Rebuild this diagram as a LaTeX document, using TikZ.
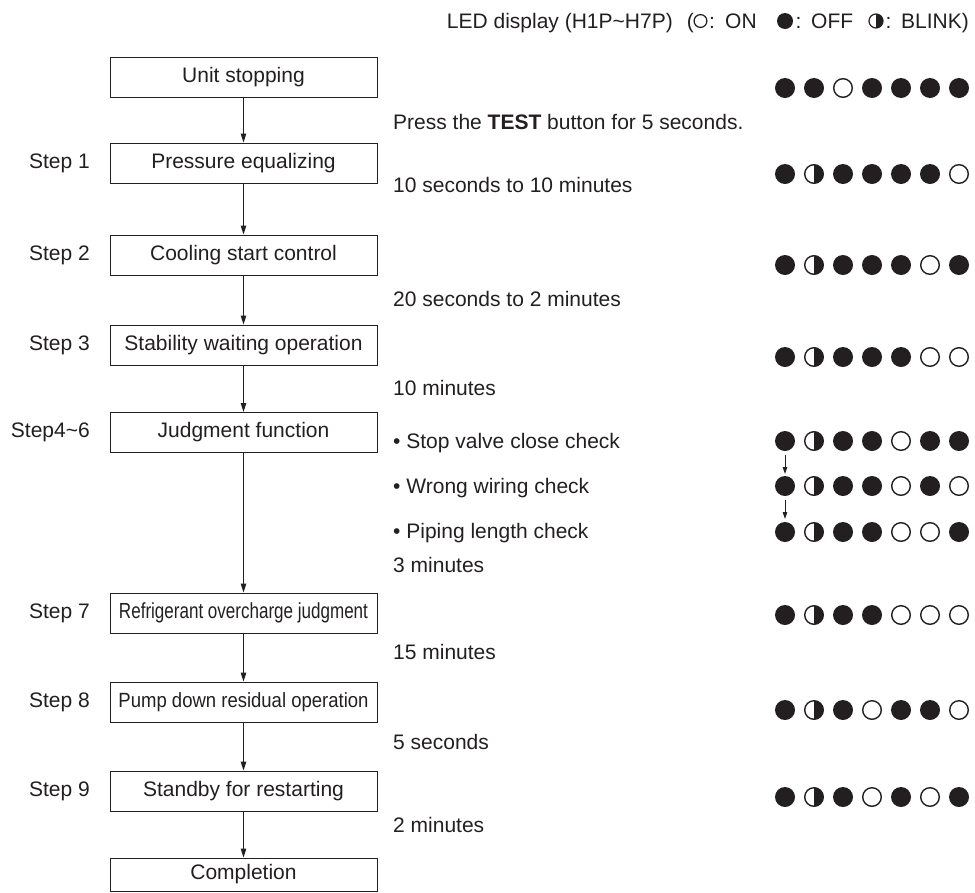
\documentclass[tikz,border=0pt]{standalone}
\usepackage{fontspec}
\setmainfont{Liberation Sans}
\usetikzlibrary{arrows.meta}
\definecolor{ink}{RGB}{35,31,32}
\newcommand\ledF[2]{\fill[ink] (#1,#2) circle (10);}
\newcommand\ledO[2]{\draw[ink,line width=1.4] (#1,#2) circle (9.3);}
\newcommand\ledB[2]{\draw[ink,line width=1.4] (#1,#2) circle (9.3);
  \fill[ink] (#1,#2) ++(0,9.3) arc[start angle=90,end angle=-90,radius=9.3] -- cycle;}
\newcommand\ledrow[2]{\foreach \s [count=\i from 0] in {#2} {\csname led\s\endcsname{785+29*\i}{#1}}}
\begin{document}
\begin{tikzpicture}[x=1pt,y=-1pt,
  every node/.style={text=ink,font=\fontsize{21}{25}\selectfont},
  box/.style={draw=ink,line width=1pt,minimum width=267pt,minimum height=40pt,inner sep=0pt},
  arr/.style={draw=ink,line width=1pt,-{Triangle[length=9pt,width=5.5pt]}},
  lbl/.style={anchor=west,inner sep=0pt},
  stp/.style={anchor=east,inner sep=0pt},
  hd/.style={inner sep=0pt}]
\useasboundingbox (0,0) rectangle (975,892);
% header
\node[hd,anchor=base east] (h0) at (673,28) {LED display (H1P\textasciitilde H7P)};
\node[hd,anchor=base east] (h1) at (694,28) {(};
\draw[ink,line width=1.2] (700.5,21) circle (6.4);
\node[hd,anchor=base] (c1) at (712,28) {:};
\node[hd,anchor=base west] (h2) at (725,28) {ON};
\fill[ink] (785,21) circle (8);
\node[hd,anchor=base] (c2) at (798.5,28) {:};
\node[hd,anchor=base west] (h3) at (811,28) {OFF};
\draw[ink,line width=1.2] (876,21) circle (7);
\fill[ink] (876,21) ++(0,7) arc[start angle=90,end angle=-90,radius=7] -- cycle;
\node[hd,anchor=base] (c3) at (888.5,28) {:};
\node[hd,anchor=base west] (h4) at (901,28) {BLINK)};
% boxes
\node[box] (b0) at (243.5,77) {Unit stopping};
\node[box] (b1) at (243.5,163) {Pressure equalizing};
\node[box] (b2) at (243.5,255) {Cooling start control};
\node[box] (b3) at (243.5,345) {Stability waiting operation};
\node[box] (b4) at (243.5,432.5) {Judgment function};
\node[box] (b7) at (243.5,613) {\resizebox{249pt}{!}{\scalebox{0.78}[1]{Refrigerant overcharge judgment}}};
\node[box] (b8) at (243.5,702) {\resizebox{250pt}{!}{\scalebox{0.9}[1]{Pump down residual operation}}};
\node[box] (b9) at (243.5,791) {Standby for restarting};
\node[box,minimum height=33pt] (b10) at (243.5,874.5) {\raisebox{-1.5pt}{Completion}};
\draw[arr] (b0) -- (b1);
\draw[arr] (b1) -- (b2);
\draw[arr] (b2) -- (b3);
\draw[arr] (b3) -- (b4);
\draw[arr] (b4) -- (b7);
\draw[arr] (b7) -- (b8);
\draw[arr] (b8) -- (b9);
\draw[arr] (b9) -- (b10);
% step labels
\node[stp] (s1) at (90,163) {Step 1};
\node[stp] (s2) at (90,255) {Step 2};
\node[stp] (s3) at (90,345) {Step 3};
\node[stp] (s4) at (90,432.5) {Step4\textasciitilde 6};
\node[stp] (s7) at (90,613) {Step 7};
\node[stp] (s8) at (90,702) {Step 8};
\node[stp] (s9) at (90,791) {Step 9};
% right texts
\node[lbl] (t0) at (393,122) {Press the \textbf{TEST} button for 5 seconds.};
\node[lbl] (t1) at (393,185) {10 seconds to 10 minutes};
\node[lbl] (t2) at (393,299) {20 seconds to 2 minutes};
\node[lbl] (t3) at (393,388) {10 minutes};
\node[lbl] (t4) at (393,443) {• Stop valve close check};
\node[lbl] (t5) at (393,488) {• Wrong wiring check};
\node[lbl] (t6) at (393,533) {• Piping length check};
\node[lbl] (t7) at (393,565) {3 minutes};
\node[lbl] (t8) at (393,652) {15 minutes};
\node[lbl] (t9) at (393,742) {5 seconds};
\node[lbl] (t10) at (393,825) {2 minutes};
% LED rows
\ledrow{88}{F,F,O,F,F,F,F}
\ledrow{174}{F,B,F,F,F,F,O}
\ledrow{265}{F,B,F,F,F,O,F}
\ledrow{357}{F,B,F,F,F,O,O}
\ledrow{441}{F,B,F,F,O,F,F}
\ledrow{486}{F,B,F,F,O,F,O}
\ledrow{532}{F,B,F,F,O,O,F}
\ledrow{615}{F,B,F,F,O,O,O}
\ledrow{710}{F,B,F,O,F,F,O}
\ledrow{797}{F,B,F,O,F,O,F}
% small arrows
\coordinate (p1) at (785,455);
\coordinate (p2) at (785,474);
\coordinate (p3) at (785,500);
\coordinate (p4) at (785,519);
\draw[arr,line width=0.9pt,-{Triangle[length=7pt,width=4.5pt]}] (p1) -- (p2);
\draw[arr,line width=0.9pt,-{Triangle[length=7pt,width=4.5pt]}] (p3) -- (p4);
\end{tikzpicture}
\end{document}
